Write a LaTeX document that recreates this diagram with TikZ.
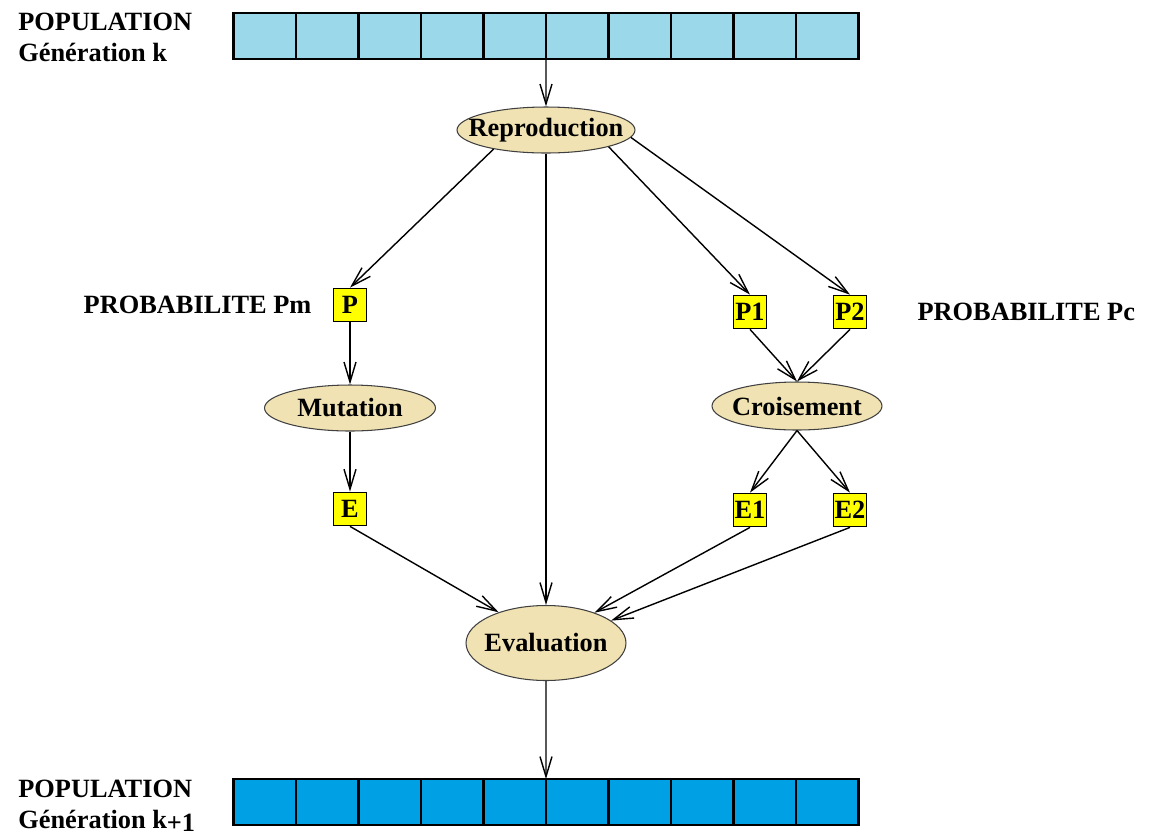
\documentclass[tikz,border=0pt]{standalone}
\usepackage{fontspec}
\setmainfont{Liberation Serif}
\usetikzlibrary{arrows.meta, positioning, shapes.geometric}
\definecolor{popold}{RGB}{155,216,233}
\definecolor{popnew}{RGB}{0,161,228}
\definecolor{opfill}{RGB}{240,226,178}
\definecolor{genfill}{RGB}{255,255,0}
\newcommand{\optext}[1]{\makebox[0pt]{#1}}

\begin{document}
\begin{tikzpicture}[
    x=0.02cm, y=-0.02cm,
    font=\fontsize{15}{17.6}\selectfont\bfseries,
    arrow/.style={-{Straight Barb[length=4mm, width=2.4mm]}, line width=0.8pt},
    cell/.style={rectangle, draw=black, line width=1.5pt, minimum width=1.25cm, minimum height=0.92cm, inner sep=0pt, outer sep=0pt},
    proc/.style={ellipse, draw=black!75, fill=opfill, line width=0.6pt, inner sep=0pt},
    gene/.style={rectangle, draw=black, fill=genfill, line width=1pt, minimum size=0.66cm, inner sep=0pt},
    lbl/.style={align=left, anchor=west, inner sep=0pt}
]
\useasboundingbox (0,0) rectangle (1153,836);

% populations
\foreach \i in {0,...,9}
  \node[cell, fill=popold] (k\i) at ({264.75+62.5*\i},36) {};
\foreach \i in {0,...,9}
  \node[cell, fill=popnew] (n\i) at ({264.75+62.5*\i},802) {};
\node[lbl] (popk) at (18,37.5) {POPULATION\\G\'en\'eration k};
\node[lbl] (popn) at (18,806) {POPULATION\\G\'en\'eration k\raisebox{-2pt}{+1}};

% operators
\node[proc, minimum width=3.56cm, minimum height=0.92cm] (repro) at (546,130) {\optext{Reproduction}};
\node[proc, minimum width=3.42cm, minimum height=0.92cm] (mut) at (350,408) {\optext{Mutation}};
\node[proc, minimum width=3.4cm, minimum height=0.96cm] (cross) at (797,406) {\optext{Croisement}};
\node[proc, minimum width=3.2cm, minimum height=1.5cm] (eval) at (546,643) {\optext{Evaluation}};

% individuals
\node[gene] (p) at (350,305) {P};
\node[gene] (e) at (350,509) {E};
\node[gene] (p1) at (750,312) {P1};
\node[gene] (p2) at (850,312) {P2};
\node[gene] (e1) at (750,510) {E1};
\node[gene] (e2) at (850,510) {E2};
\node[left=0.3cm of p] (pm) {PROBABILITE Pm};
\node[right=0.88cm of p2] (pc) {PROBABILITE Pc};

\draw[arrow] (k4.south east) -- (repro);
\draw[arrow] (repro.200) -- (p.north);
\draw[arrow] (repro) -- (eval);
\draw[arrow] (repro.345) -- (p1.north);
\draw[arrow] (repro.355) -- (p2.north);
\draw[arrow] (p) -- (mut);
\draw[arrow] (mut) -- (e);
\draw[arrow] (p1.south) -- (cross.north);
\draw[arrow] (p2.south) -- (cross.north);
\draw[arrow] (cross.south) -- (e1.north);
\draw[arrow] (cross.south) -- (e2.north);
\draw[arrow] (e.south) -- (eval.147);
\draw[arrow] (e1.south) -- (eval.32);
\draw[arrow] (e2.south) -- (eval.19);
\draw[arrow] (eval) -- (n4.north east);
\end{tikzpicture}
\end{document}
